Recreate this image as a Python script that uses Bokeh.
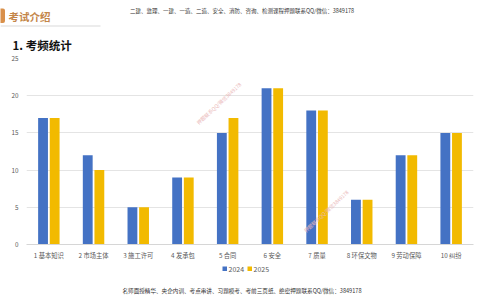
from bokeh.plotting import figure
from bokeh.models import (ColumnDataSource, FactorRange, Range1d, Label,
                          SingleIntervalTicker)
from bokeh.layouts import column
from bokeh.core.properties import value
from bokeh.transform import dodge
from bokeh.embed import file_html
from bokeh.resources import INLINE

# Topics and how often each was examined
categories = ["1 基本知识", "2 市场主体", "3 施工许可", "4 发承包", "5 合同",
              "6 安全", "7 质量", "8 环保文物", "9 劳动保障", "10 纠纷"]
y2024 = [17, 12, 5, 9, 15, 21, 18, 6, 12, 15]
y2025 = [17, 10, 5, 9, 17, 21, 18, 6, 12, 15]
series_names = ["2024", "2025"]

header_text = "考试介绍"
title_text = "1. 考频统计"
top_note = "二建、监理、一建、一造、二造、安全、消防、咨询、检测课程押题联系QQ/微信：3849178"
bottom_note = "名师面授精华、央企内训、考点串讲、习题模考、考前三页纸、绝密押题联系QQ/微信：3849178"
watermark = "押题联系QQ/微信3849178"

FONT = "Noto Sans CJK SC"
BLUE = "#4472C4"
GOLD = "#F2BA00"
W = 484


def blank(height, y_top):
    # a plain drawing strip measured in page pixels, y growing downward
    f = figure(width=W, height=height, output_backend="svg", toolbar_location=None,
               x_range=Range1d(0, W), y_range=Range1d(y_top + height, y_top),
               x_axis_location=None, y_axis_location=None, frame_align=False,
               min_border=0, min_border_left=0, min_border_right=0,
               min_border_top=0, min_border_bottom=0)
    f.grid.visible = False
    f.outline_line_color = None
    f.background_fill_color = "white"
    f.border_fill_color = "white"
    return f


def txt(f, x, y, text, size, color, bold=False, align="left"):
    f.text(x=[x], y=[y], text=[text], text_font=value(FONT), text_font_size=size,
           text_color=color, text_align=align, text_baseline="middle",
           text_font_style="bold" if bold else "normal")


# ---- page header strip ----
head = blank(52, 0)
head.quad(left=[-4], right=[4.5], top=[8], bottom=[22.5], fill_color="#D9904A",
          line_color=None, border_radius=2)
head.quad(left=[0], right=[100], top=[25], bottom=[26], fill_color="#d9d9d9",
          line_color=None)
txt(head, 8, 15.5, header_text, "10.5px", "#C4864A", bold=True)
txt(head, 241.5, 10, top_note, "5.5px", "#333333", align="center")
txt(head, 12, 44, title_text, "11.5px", "#111111", bold=True)

# ---- chart ----
src = ColumnDataSource(dict(cat=categories, a=y2024, b=y2025))

p = figure(width=W, height=210, output_backend="svg", toolbar_location=None,
           x_range=FactorRange(*categories), y_range=Range1d(0, 25),
           frame_align=False,
           min_border_left=26, min_border_right=11, min_border_top=6,
           min_border_bottom=18)
p.background_fill_color = "white"
p.border_fill_color = "white"
p.outline_line_color = None

p.vbar(x=dodge("cat", -0.13, range=p.x_range), top="a", width=0.22,
       source=src, fill_color=BLUE, line_color=None)
p.vbar(x=dodge("cat", 0.13, range=p.x_range), top="b", width=0.22,
       source=src, fill_color=GOLD, line_color=None)

p.xgrid.grid_line_color = None
p.ygrid.grid_line_color = "#e4e4e4"
p.ygrid.grid_line_width = 1
p.yaxis.ticker = SingleIntervalTicker(interval=5)
p.yaxis.axis_line_color = None
p.yaxis.major_label_standoff = 8
p.xaxis.axis_line_color = "#d6d6d6"
p.xaxis.major_label_standoff = 6
for ax in (p.xaxis, p.yaxis):
    ax.major_tick_line_color = None
    ax.minor_tick_line_color = None
    ax.major_tick_out = 0
    ax.major_tick_in = 0
    ax.minor_tick_out = 0
    ax.major_label_text_font = FONT
    ax.major_label_text_font_size = "6.3px"
    ax.major_label_text_color = "#595959"

# faint watermarks
for (wx, wy) in [(4.3, 19.0), (6.7, 4.5)]:
    p.add_layout(Label(x=wx, y=wy, text=watermark, text_font=FONT,
                       text_font_size="5px", text_color="#eab8b8", angle=0.75,
                       text_align="center", text_baseline="middle"))

# ---- footer strip: series key and note ----
foot = blank(38, 262)
key_x = [222, 247]
key_colors = [BLUE, GOLD]
foot.quad(left=key_x, right=[x + 4.5 for x in key_x], top=[266] * 2,
          bottom=[270.5] * 2, fill_color=key_colors, line_color=None)
for x, name in zip(key_x, series_names):
    txt(foot, x + 6, 268, name, "7px", "#595959")
txt(foot, 241.5, 290, bottom_note, "5.6px", "#333333", align="center")

page = column(head, p, foot, spacing=0)
open("out.html", "w").write(file_html(page, INLINE))
